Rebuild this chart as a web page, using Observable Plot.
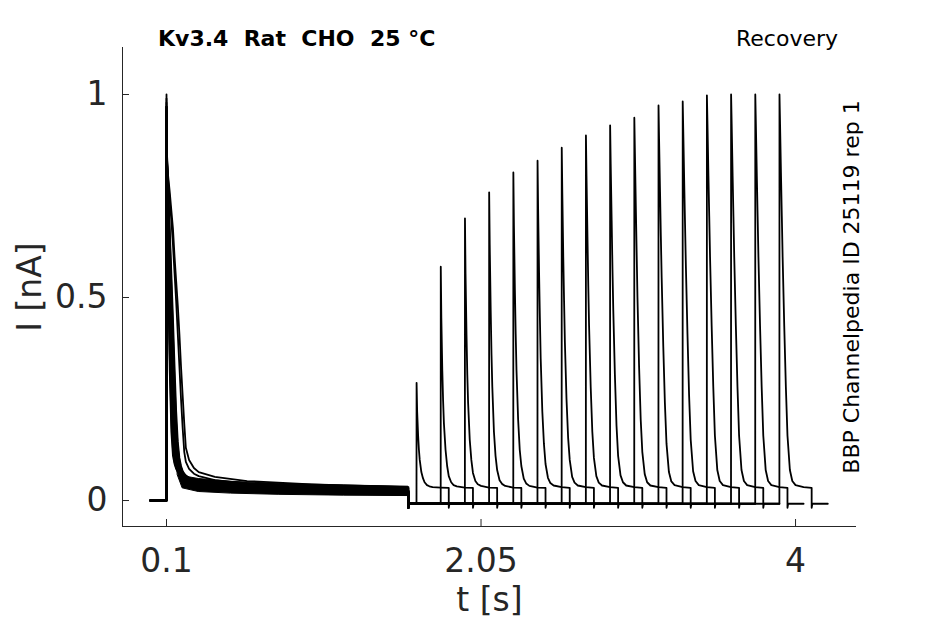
<!DOCTYPE html>
<html><head><meta charset="utf-8">
<script src="https://cdn.jsdelivr.net/npm/d3@7"></script>
<script src="https://cdn.jsdelivr.net/npm/@observablehq/plot@0.6"></script>
<style>
body{margin:0;background:#fff;}
#wrap{position:relative;width:945px;height:624px;font-family:"DejaVu Sans",sans-serif;}
#wrap svg{position:absolute;left:0;top:0;}
.t{position:absolute;white-space:pre;font-size:22px;line-height:22px;color:#000;z-index:2;}
</style></head><body>
<div id="wrap">
<div class="t" style="left:158px;top:28px;font-weight:bold">Kv3.4  Rat  CHO  25 °C</div>
<div class="t" style="left:736px;top:28px;">Recovery</div>
</div>
<script>
// ---- axis ticks ----
const xTicks = [0.1, 2.05, 4];
const xTickLabels = ["0.1", "2.05", "4"];
const yTicks = [0, 0.5, 1];
const yTickLabels = ["0", "0.5", "1"];
const xDomain = [-0.1728, 4.378];
const yDomain = [-0.064, 1.1158];

// ---- conditioning pulse (all 16 sweeps), times in s, current in nA ----
const condT = [0, 0.0998, 0.1, 0.102, 0.11, 0.12, 0.13, 0.14, 0.15, 0.16, 0.17, 0.18, 0.19, 0.2, 0.21, 0.22, 0.24, 0.27, 0.3, 0.4, 0.6, 1.0, 1.6];
const condI = [
  [0,0,0.94,0.80,0.56,0.32,0.17,0.11,0.09,0.078,0.07,0.064,0.059,0.055,0.052,0.049,0.045,0.041,0.037,0.030,0.024,0.018,0.014],
  [0,0,0.95,0.81,0.59,0.36,0.20,0.125,0.095,0.08,0.072,0.065,0.06,0.056,0.053,0.05,0.046,0.042,0.038,0.031,0.025,0.020,0.016],
  [0,0,0.93,0.82,0.62,0.40,0.23,0.14,0.10,0.083,0.074,0.067,0.061,0.057,0.054,0.051,0.047,0.043,0.039,0.032,0.026,0.021,0.017],
  [0,0,0.96,0.83,0.64,0.43,0.26,0.155,0.105,0.086,0.076,0.068,0.062,0.058,0.055,0.052,0.048,0.044,0.040,0.033,0.027,0.022,0.018],
  [0,0,0.94,0.83,0.66,0.46,0.29,0.17,0.115,0.09,0.078,0.07,0.064,0.059,0.056,0.053,0.049,0.044,0.041,0.034,0.028,0.023,0.019],
  [0,0,0.97,0.84,0.68,0.49,0.32,0.19,0.125,0.095,0.08,0.072,0.066,0.06,0.057,0.054,0.049,0.045,0.042,0.035,0.029,0.024,0.020],
  [0,0,0.95,0.84,0.70,0.52,0.35,0.21,0.135,0.10,0.084,0.074,0.067,0.062,0.058,0.055,0.05,0.046,0.043,0.036,0.030,0.025,0.021],
  [0,0,0.93,0.84,0.71,0.55,0.38,0.24,0.15,0.11,0.088,0.077,0.069,0.063,0.059,0.055,0.051,0.047,0.043,0.036,0.030,0.025,0.021],
  [0,0,0.96,0.85,0.72,0.57,0.41,0.27,0.17,0.12,0.094,0.08,0.071,0.065,0.06,0.056,0.052,0.047,0.044,0.037,0.031,0.026,0.022],
  [0,0,0.98,0.85,0.73,0.59,0.44,0.30,0.19,0.13,0.10,0.084,0.074,0.066,0.061,0.057,0.052,0.048,0.045,0.038,0.032,0.027,0.022],
  [0,0,0.95,0.85,0.74,0.61,0.47,0.33,0.22,0.145,0.108,0.088,0.076,0.068,0.063,0.058,0.053,0.048,0.045,0.038,0.032,0.027,0.023],
  [0,0,0.97,0.85,0.75,0.63,0.50,0.37,0.25,0.165,0.118,0.093,0.079,0.07,0.064,0.06,0.054,0.049,0.046,0.039,0.033,0.028,0.023],
  [0,0,0.99,0.85,0.76,0.65,0.53,0.41,0.29,0.19,0.13,0.098,0.081,0.071,0.065,0.061,0.055,0.05,0.046,0.039,0.033,0.028,0.024],
  [0,0,0.97,0.85,0.77,0.67,0.56,0.45,0.33,0.22,0.145,0.105,0.085,0.073,0.066,0.062,0.056,0.05,0.046,0.040,0.034,0.028,0.024],
  [0,0,0.97,0.85,0.79,0.74,0.69,0.63,0.56,0.49,0.41,0.33,0.25,0.18,0.12,0.095,0.078,0.066,0.06,0.05,0.042,0.035,0.030],
  [0,0,1.00,0.86,0.80,0.76,0.715,0.67,0.60,0.54,0.48,0.41,0.33,0.26,0.19,0.13,0.10,0.08,0.07,0.058,0.048,0.040,0.033]
];
// noise envelope of the steady-state part of the conditioning step
const noiseT  = [0.17, 0.2, 0.3, 0.5, 0.8, 1.2, 1.6];
const noiseLo = [0.062, 0.03, 0.021, 0.017, 0.014, 0.012, 0.011];
const noiseHi = [0.072, 0.06, 0.053, 0.046, 0.041, 0.037, 0.034];

// ---- recovery test pulses ----
const testOnset = [1.65, 1.80, 1.95, 2.10, 2.25, 2.40, 2.55, 2.70, 2.85, 3.00, 3.15, 3.30, 3.45, 3.60, 3.75, 3.90];
const testDt = [0.0005, 0.004, 0.01, 0.015, 0.02, 0.03, 0.04, 0.05, 0.065, 0.08, 0.1, 0.15, 0.2];
const testI = [
  [0.290,0.22,0.16,0.125,0.10,0.07,0.055,0.045,0.038,0.035,0.033,0.032,0.031],
  [0.576,0.45,0.32,0.245,0.19,0.125,0.085,0.06,0.045,0.038,0.035,0.032,0.031],
  [0.695,0.56,0.41,0.31,0.24,0.15,0.10,0.068,0.048,0.04,0.036,0.032,0.031],
  [0.759,0.63,0.47,0.36,0.28,0.17,0.11,0.075,0.05,0.041,0.036,0.032,0.031],
  [0.808,0.68,0.52,0.41,0.32,0.20,0.125,0.085,0.054,0.042,0.036,0.032,0.031],
  [0.837,0.72,0.56,0.45,0.35,0.22,0.14,0.09,0.056,0.043,0.037,0.033,0.031],
  [0.869,0.76,0.60,0.49,0.39,0.25,0.155,0.10,0.058,0.044,0.037,0.033,0.031],
  [0.899,0.80,0.65,0.53,0.43,0.28,0.17,0.105,0.06,0.044,0.037,0.033,0.031],
  [0.924,0.83,0.69,0.57,0.47,0.31,0.185,0.11,0.062,0.045,0.037,0.033,0.031],
  [0.943,0.86,0.72,0.61,0.50,0.33,0.20,0.12,0.065,0.045,0.037,0.033,0.031],
  [0.973,0.89,0.76,0.65,0.55,0.38,0.24,0.14,0.07,0.047,0.038,0.033,0.031],
  [0.983,0.91,0.78,0.68,0.58,0.41,0.26,0.15,0.072,0.048,0.038,0.033,0.031],
  [0.998,0.93,0.80,0.70,0.60,0.43,0.28,0.16,0.075,0.048,0.038,0.033,0.031],
  [1.000,0.93,0.80,0.70,0.60,0.43,0.28,0.16,0.075,0.048,0.038,0.033,0.031],
  [1.000,0.93,0.80,0.70,0.60,0.43,0.28,0.16,0.075,0.048,0.038,0.033,0.031],
  [1.000,0.93,0.80,0.70,0.60,0.43,0.28,0.16,0.075,0.048,0.038,0.033,0.031]
];
const condEnd = 1.6;          // end of conditioning step (s)
const holdI = -0.008;         // holding current between pulses (nA)
const tailDip = -0.018;       // small tail at end of each step (nA)
const tailDt = 0.004;         // tail duration (s)
const sweepTail = 0.1;        // recording after the test pulse (s)

const sideNote = "BBP Channelpedia ID 25119 rep 1";
const xLabel = "t [s]";
const yLabel = "I [nA]";

// ---- assemble sweep rows ----
const rows = [];
condI.forEach((vals, k) => {
  condT.forEach((t, j) => rows.push({sweep: k, t, i: vals[j]}));
  rows.push({sweep: k, t: condEnd, i: tailDip});
  rows.push({sweep: k, t: condEnd + tailDt, i: holdI});
  const on = testOnset[k];
  rows.push({sweep: k, t: on, i: holdI});
  testDt.forEach((dt, j) => rows.push({sweep: k, t: on + dt, i: testI[k][j]}));
  const end = on + testDt[testDt.length - 1];
  rows.push({sweep: k, t: end, i: tailDip});
  rows.push({sweep: k, t: end + tailDt, i: holdI});
  rows.push({sweep: k, t: end + sweepTail, i: holdI});
});
const noise = noiseT.map((t, j) => ({t, lo: noiseLo[j], hi: noiseHi[j]}));

const ink = "#262626";
const plot = Plot.plot({
  width: 945, height: 624,
  marginLeft: 122, marginRight: 89, marginTop: 47, marginBottom: 98,
  x: {domain: xDomain},
  y: {domain: yDomain},
  style: {fontFamily: "DejaVu Sans, sans-serif", background: "transparent", overflow: "visible"},
  marks: [
    Plot.ruleY([yDomain[0]], {stroke: ink, strokeWidth: 1}),
    Plot.ruleX([xDomain[0]], {stroke: ink, strokeWidth: 1}),
    Plot.tickX(xTicks, {x: d => d, insetTop: 472, stroke: ink, strokeWidth: 1}),
    Plot.tickY(yTicks, {y: d => d, insetRight: 727, stroke: ink, strokeWidth: 1}),
    Plot.axisX({ticks: xTicks, tickFormat: d => xTickLabels[xTicks.indexOf(d)], tickSize: 0, tickPadding: 22, fontSize: 33, fill: ink, label: null}),
    Plot.axisY({ticks: yTicks, tickFormat: d => yTickLabels[yTicks.indexOf(d)], tickSize: 0, tickPadding: 15, fontSize: 33, fill: ink, label: null}),
    Plot.areaY(noise, {x: "t", y1: "lo", y2: "hi", fill: "black", stroke: "black", strokeWidth: 1}),
    Plot.line(rows, {x: "t", y: "i", z: "sweep", stroke: "black", strokeWidth: 1.8, strokeLinejoin: "round"}),
    Plot.text([xLabel], {text: d => d, frameAnchor: "bottom", dy: 84, fontSize: 33, fill: ink, textAnchor: "middle"}),
    Plot.text([yLabel], {text: d => d, frameAnchor: "left", dx: -92, rotate: -90, fontSize: 33, fill: ink, textAnchor: "middle"}),
    Plot.text([sideNote], {text: d => d, frameAnchor: "right", dx: -5, rotate: -90, fontSize: 22, fill: "black", textAnchor: "middle"})
  ]
});
document.getElementById("wrap").prepend(plot);
</script>
</body></html>
